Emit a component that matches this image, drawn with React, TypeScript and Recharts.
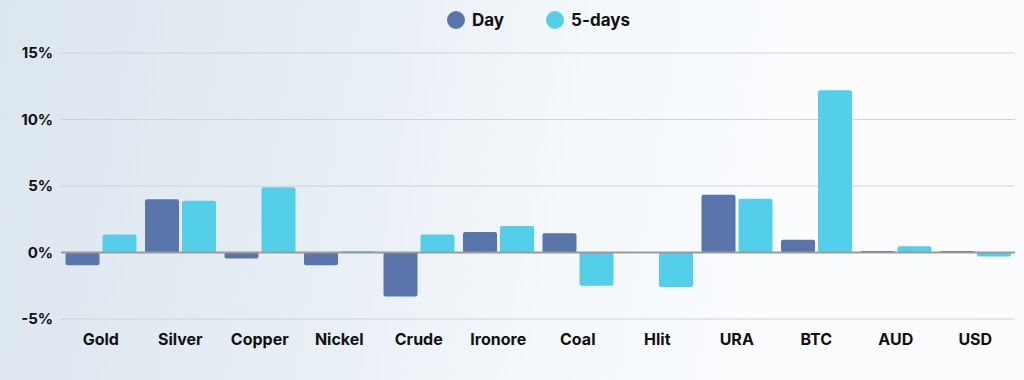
import React from 'react';
import {
  BarChart,
  Bar,
  XAxis,
  YAxis,
  CartesianGrid,
  ReferenceLine,
} from 'recharts';

const categories = ['Gold', 'Silver', 'Copper', 'Nickel', 'Crude', 'Ironore', 'Coal', 'Hlit', 'URA', 'BTC', 'AUD', 'USD'];
const dayValues = [-0.95, 4.0, -0.45, -0.95, -3.3, 1.55, 1.45, 0, 4.35, 0.95, 0.12, 0.12];
const fiveDayValues = [1.35, 3.9, 4.9, 0.12, 1.35, 2.0, -2.5, -2.6, 4.05, 12.2, 0.47, -0.3];
const yTicks = [-5, 0, 5, 10, 15];

const DAY_COLOR = '#5a75ab';
const FIVE_COLOR = '#54cfe9';
const FONT = 'Inter, "Noto Sans", sans-serif';

const data = categories.map((name, i) => ({
  name,
  day: dayValues[i],
  fiveDays: fiveDayValues[i],
}));

const legendItems = [
  { label: 'Day', color: DAY_COLOR },
  { label: '5-days', color: FIVE_COLOR },
];

function TopLegend() {
  return (
    <div
      style={{
        position: 'absolute',
        top: 10,
        left: 447,
        display: 'flex',
        gap: 42,
        fontFamily: FONT,
      }}
    >
      {legendItems.map((item) => (
        <div key={item.label} style={{ display: 'flex', alignItems: 'center', gap: 7 }}>
          <span
            style={{
              width: 18,
              height: 18,
              borderRadius: '50%',
              background: item.color,
              display: 'inline-block',
            }}
          />
          <span style={{ fontWeight: 700, fontSize: 17, color: '#111' }}>{item.label}</span>
        </div>
      ))}
    </div>
  );
}

export default function App() {
  return (
    <div
      style={{
        position: 'absolute',
        left: 0,
        top: 0,
        width: 1024,
        height: 380,
        background: 'linear-gradient(100deg, #dce6ef 0%, #e8eff5 35%, #f4f8fb 55%, #fafcfe 75%, #fbfcfe 100%)',
      }}
    >
      <TopLegend />
      <BarChart
        width={1024}
        height={380}
        data={data}
        margin={{ top: 53, right: 9, bottom: 31, left: 0 }}
        barCategoryGap={4.5}
        barGap={3}
      >
        <CartesianGrid vertical={false} stroke="#cdd3d8" strokeWidth={1} />
        <XAxis
          dataKey="name"
          axisLine={false}
          tickLine={false}
          tickMargin={9}
          interval={0}
          tick={{ fill: '#111', fontSize: 16, fontWeight: 700, fontFamily: FONT }}
        />
        <YAxis
          width={61}
          domain={[-5, 15]}
          ticks={yTicks}
          axisLine={false}
          tickLine={false}
          tickMargin={2}
          tickFormatter={(v) => `${v}%`}
          tick={{ fill: '#111', fontSize: 15, fontWeight: 700, fontFamily: FONT }}
        />
        <Bar dataKey="day" name="Day" fill={DAY_COLOR} radius={2} isAnimationActive={false} />
        <Bar dataKey="fiveDays" name="5-days" fill={FIVE_COLOR} radius={2} isAnimationActive={false} />
        <ReferenceLine y={0} stroke="#9a9a9a" strokeWidth={2} />
      </BarChart>
    </div>
  );
}
